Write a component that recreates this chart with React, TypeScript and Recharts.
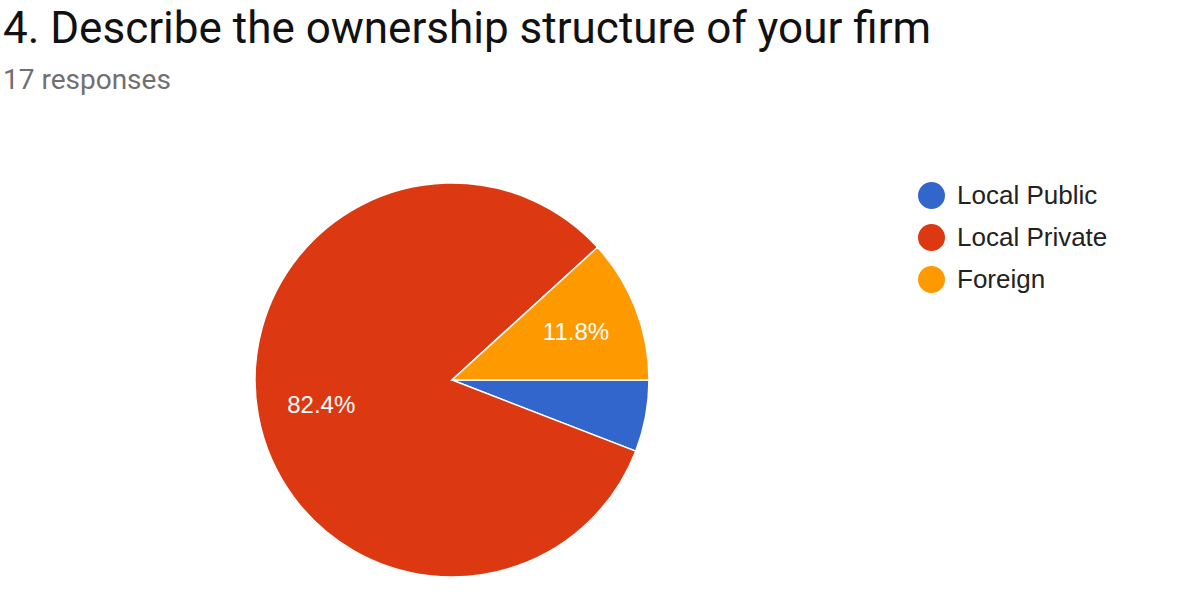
import React from 'react';
import { PieChart, Pie, Cell, Legend } from 'recharts';

const categories = ['Local Public', 'Local Private', 'Foreign'];
const responses = [1, 14, 2];
const sliceColors = ['#3366cc', '#dc3912', '#ff9900'];

const titleText = '4. Describe the ownership structure of your firm';
const subtitleText = '17 responses';

const data = categories.map((name, i) => ({ name, value: responses[i] }));

const RADIAN = Math.PI / 180;

// percentage inside the slice, skipped for thin slices
const renderLabel = (props: any) => {
  const { cx, cy, midAngle, outerRadius, percent } = props;
  if (percent < 0.1) return null;
  const r = outerRadius * 0.675;
  const x = cx + r * Math.cos(-midAngle * RADIAN);
  const y = cy + r * Math.sin(-midAngle * RADIAN);
  return (
    <text
      x={x}
      y={y}
      fill="#ffffff"
      textAnchor="middle"
      dominantBaseline="central"
      fontSize={24}
      fontFamily="'Liberation Sans', Arial, sans-serif"
    >
      {`${(percent * 100).toFixed(1)}%`}
    </text>
  );
};

// keep legend rows in data order (clockwise pie reverses the payload)
const renderLegend = (props: any) => {
  const items = [...(props.payload || [])].sort(
    (a: any, b: any) => categories.indexOf(a.value) - categories.indexOf(b.value)
  );
  return (
    <ul style={{ listStyle: 'none', margin: 0, padding: 0 }}>
      {items.map((entry: any, index: number) => (
        <li
          key={`item-${index}`}
          style={{ display: 'flex', alignItems: 'center', height: 42 }}
        >
          <span
            style={{
              display: 'inline-block',
              width: 27,
              height: 27,
              borderRadius: '50%',
              background: entry.color,
              marginRight: 12,
            }}
          />
          <span
            style={{
              fontFamily: "'Liberation Sans', Arial, sans-serif",
              fontSize: 26,
              color: '#222222',
            }}
          >
            {entry.value}
          </span>
        </li>
      ))}
    </ul>
  );
};

export default function App() {
  return (
    <div
      style={{
        position: 'absolute',
        left: 0,
        top: 0,
        width: 1185,
        height: 598,
        background: '#ffffff',
      }}
    >
      <div
        style={{
          position: 'absolute',
          left: 3,
          top: 2,
          fontFamily: 'Roboto, sans-serif',
          fontSize: 44,
          lineHeight: '52px',
          color: '#111111',
          whiteSpace: 'nowrap',
        }}
      >
        {titleText}
      </div>
      <div
        style={{
          position: 'absolute',
          left: 3,
          top: 63,
          fontFamily: 'Roboto, sans-serif',
          fontSize: 28,
          lineHeight: '33px',
          color: '#707070',
          whiteSpace: 'nowrap',
        }}
      >
        {subtitleText}
      </div>
      <PieChart
        width={1185}
        height={598}
        margin={{ top: 0, right: 0, bottom: 0, left: 0 }}
        style={{ position: 'absolute', left: 0, top: 0 }}
      >
        <Pie
          data={data}
          dataKey="value"
          nameKey="name"
          cx={452}
          cy={380}
          outerRadius={197}
          startAngle={0}
          endAngle={-360}
          stroke="#ffffff"
          strokeWidth={1.5}
          label={renderLabel}
          labelLine={false}
          isAnimationActive={false}
        >
          {data.map((entry, index) => (
            <Cell key={`cell-${index}`} fill={sliceColors[index]} />
          ))}
        </Pie>
        <Legend
          layout="vertical"
          content={renderLegend}
          wrapperStyle={{ position: 'absolute', left: 918, top: 174, width: 260 }}
        />
      </PieChart>
    </div>
  );
}
